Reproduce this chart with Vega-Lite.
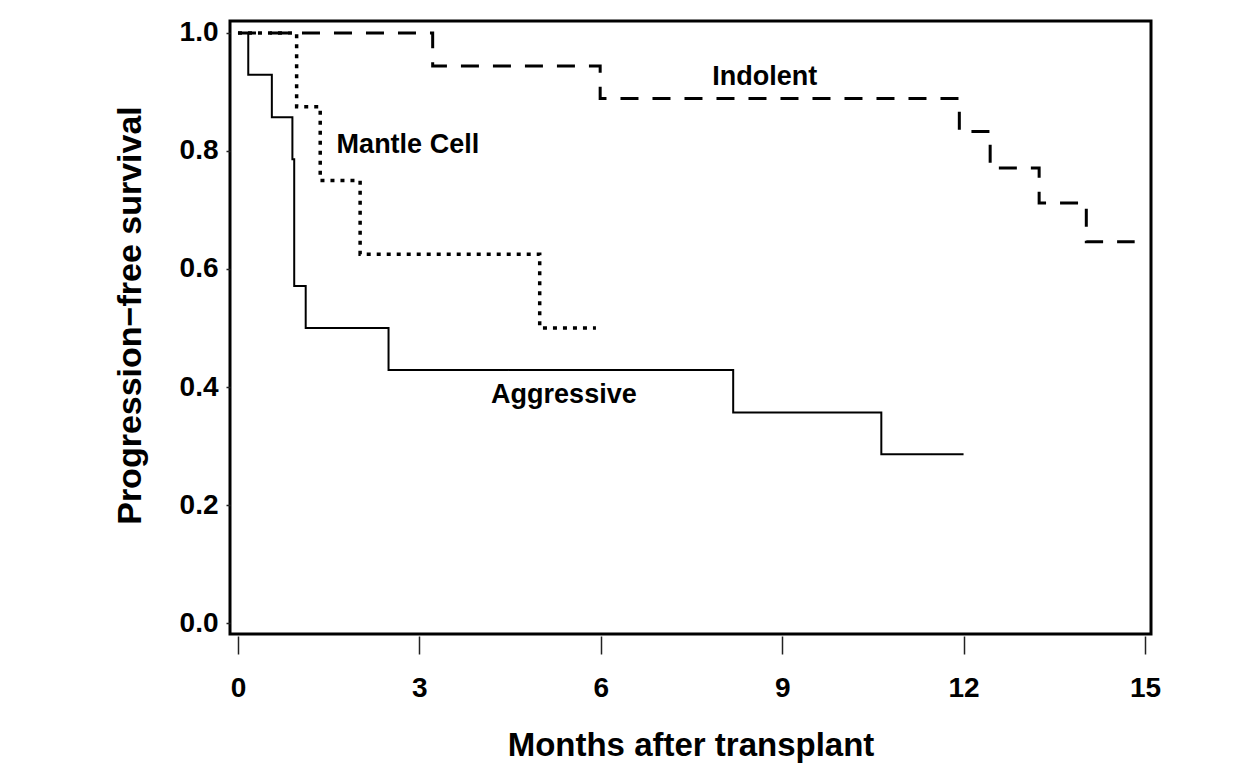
{
  "$schema": "https://vega.github.io/schema/vega-lite/v6.json",
  "width": 921,
  "height": 613,
  "autosize": {"type": "none"},
  "padding": {"left": 230, "top": 21, "right": 105, "bottom": 135},
  "background": "white",
  "config": {
    "view": {"stroke": "black", "strokeWidth": 3},
    "font": "Liberation Sans",
    "text": {"font": "Liberation Sans"}
  },
  "datasets": {
    "curves": [
      {"group": "Aggressive", "month": 0, "pfs": 1.0},
      {"group": "Aggressive", "month": 0.17, "pfs": 0.929},
      {"group": "Aggressive", "month": 0.56, "pfs": 0.857},
      {"group": "Aggressive", "month": 0.9, "pfs": 0.786},
      {"group": "Aggressive", "month": 0.93, "pfs": 0.571},
      {"group": "Aggressive", "month": 1.12, "pfs": 0.5},
      {"group": "Aggressive", "month": 2.49, "pfs": 0.429},
      {"group": "Aggressive", "month": 8.19, "pfs": 0.357},
      {"group": "Aggressive", "month": 10.64, "pfs": 0.286},
      {"group": "Aggressive", "month": 12.0, "pfs": 0.286},
      {"group": "Mantle Cell", "month": 0, "pfs": 1.0},
      {"group": "Mantle Cell", "month": 0.97, "pfs": 0.875},
      {"group": "Mantle Cell", "month": 1.36, "pfs": 0.75},
      {"group": "Mantle Cell", "month": 2.02, "pfs": 0.625},
      {"group": "Mantle Cell", "month": 4.99, "pfs": 0.5},
      {"group": "Mantle Cell", "month": 5.92, "pfs": 0.5},
      {"group": "Indolent", "month": 0, "pfs": 1.0},
      {"group": "Indolent", "month": 3.22, "pfs": 0.944},
      {"group": "Indolent", "month": 5.99, "pfs": 0.889},
      {"group": "Indolent", "month": 11.93, "pfs": 0.833},
      {"group": "Indolent", "month": 12.44, "pfs": 0.771},
      {"group": "Indolent", "month": 13.25, "pfs": 0.712},
      {"group": "Indolent", "month": 14.03, "pfs": 0.646},
      {"group": "Indolent", "month": 14.83, "pfs": 0.646}
    ],
    "labels": [
      {"label": "Indolent", "month": 8.71, "pfs": 0.912},
      {"label": "Mantle Cell", "month": 2.81, "pfs": 0.797},
      {"label": "Aggressive", "month": 5.39, "pfs": 0.373}
    ]
  },
  "layer": [
    {
      "data": {"name": "curves"},
      "mark": {"type": "line", "interpolate": "step-after", "color": "black", "clip": true},
      "encoding": {
        "x": {
          "field": "month",
          "type": "quantitative",
          "scale": {"domain": [-0.132, 15.1], "nice": false, "zero": false},
          "axis": {
            "values": [0, 3, 6, 9, 12, 15],
            "format": "d",
            "title": "Months after transplant",
            "titleFont": "Liberation Sans",
            "titleFontSize": 33,
            "titleFontWeight": "bold",
            "titleColor": "black",
            "titleBaseline": "alphabetic",
            "titleY": 119,
            "offset": 2,
            "domain": false,
            "grid": false,
            "tickSize": 18,
            "tickWidth": 1.5,
            "tickColor": "#222222",
            "labelFont": "Liberation Sans",
            "labelFontSize": 28,
            "labelFontWeight": "bold",
            "labelColor": "black",
            "labelBaseline": "alphabetic",
            "labelPadding": 42,
            "labelFlush": false
          }
        },
        "y": {
          "field": "pfs",
          "type": "quantitative",
          "scale": {"domain": [-0.0186, 1.0203], "nice": false, "zero": false},
          "axis": {
            "values": [0, 0.2, 0.4, 0.6, 0.8, 1.0],
            "format": ".1f",
            "title": "Progression−free survival",
            "titleFont": "Liberation Sans",
            "titleFontSize": 34,
            "titleFontWeight": "bold",
            "titleColor": "black",
            "titleBaseline": "alphabetic",
            "titleAngle": -90,
            "titleAlign": "center",
            "titleX": -90,
            "titleY": 294,
            "domain": false,
            "grid": false,
            "tickSize": 4,
            "tickWidth": 1.5,
            "tickColor": "#222222",
            "labelFont": "Liberation Sans",
            "labelFontSize": 28,
            "labelFontWeight": "bold",
            "labelColor": "black",
            "labelPadding": 8,
            "labelFlush": false
          }
        },
        "detail": {"field": "group", "type": "nominal"},
        "strokeDash": {
          "field": "group",
          "type": "nominal",
          "scale": {"domain": ["Aggressive", "Mantle Cell", "Indolent"], "range": [[1, 0], [4, 6], [18, 14]]},
          "legend": null
        },
        "strokeWidth": {
          "field": "group",
          "type": "nominal",
          "scale": {"type": "ordinal", "domain": ["Aggressive", "Mantle Cell", "Indolent"], "range": [2, 3.5, 3]},
          "legend": null
        }
      }
    },
    {
      "data": {"name": "labels"},
      "mark": {"type": "text", "fontSize": 27, "fontWeight": "bold", "baseline": "alphabetic", "align": "center", "color": "black", "font": "Liberation Sans"},
      "encoding": {
        "x": {"field": "month", "type": "quantitative"},
        "y": {"field": "pfs", "type": "quantitative"},
        "text": {"field": "label", "type": "nominal"}
      }
    }
  ]
}
